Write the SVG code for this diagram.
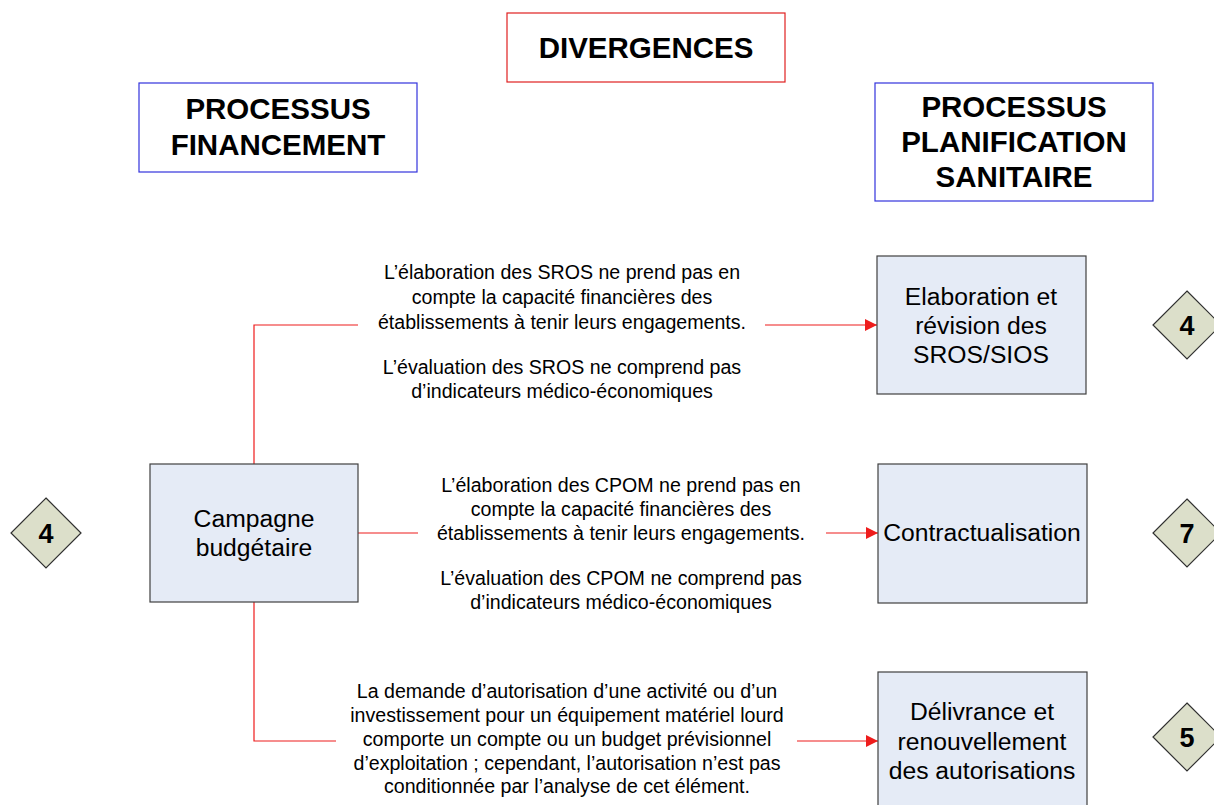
<svg xmlns="http://www.w3.org/2000/svg" width="1214" height="805" viewBox="0 0 1214 805">
  <style>
    .hdr { fill: #ffffff; stroke-width: 1.2; }
    .hdr-red { stroke: #e02020; }
    .hdr-blue { stroke: #3333dd; }
    .htxt { font-family: "Liberation Sans", Arial, sans-serif; font-weight: bold; font-size: 29.5px; fill: #000; text-anchor: middle; }
    .box { fill: #e5ebf6; stroke: #404040; stroke-width: 1.2; }
    .btxt { font-family: "Liberation Sans", Arial, sans-serif; font-size: 24.7px; fill: #000; text-anchor: middle; }
    .note { font-family: "Liberation Sans", Arial, sans-serif; font-size: 19.6px; fill: #000; text-anchor: middle; }
    .dia { fill: #dcdfca; stroke: #303030; stroke-width: 1.2; }
    .dtxt { font-family: "Liberation Sans", Arial, sans-serif; font-weight: bold; font-size: 27px; fill: #000; text-anchor: middle; }
    .link { fill: none; stroke: #ee1c1c; stroke-width: 1.2; }
  </style>
  <defs>
    <marker id="arrow" viewBox="0 0 10 10" refX="10" refY="5" markerWidth="12" markerHeight="12" markerUnits="userSpaceOnUse" orient="auto">
      <path d="M0,0 L10,5 L0,10 z" fill="#ee1c1c"/>
    </marker>
  </defs>

  <rect width="1214" height="805" fill="#ffffff"/>

  <!-- column headers -->
  <g id="divergences">
    <rect class="hdr hdr-red" x="507" y="13" width="278" height="69"/>
    <text class="htxt" x="646" y="58">DIVERGENCES</text>
  </g>
  <g id="processus-financement">
    <rect class="hdr hdr-blue" x="139" y="83" width="278" height="89"/>
    <text class="htxt" x="278" y="119">PROCESSUS</text>
    <text class="htxt" x="278" y="155">FINANCEMENT</text>
  </g>
  <g id="processus-planification">
    <rect class="hdr hdr-blue" x="875" y="83" width="278" height="118"/>
    <text class="htxt" x="1014" y="117">PROCESSUS</text>
    <text class="htxt" x="1014" y="152">PLANIFICATION</text>
    <text class="htxt" x="1014" y="187">SANITAIRE</text>
  </g>

  <!-- connectors -->
  <g id="connectors">
    <path class="link" d="M254,464 V325 H358"/>
    <path class="link" d="M765,325 H877" marker-end="url(#arrow)"/>
    <path class="link" d="M358,533 H418"/>
    <path class="link" d="M826,533 H878" marker-end="url(#arrow)"/>
    <path class="link" d="M254,602 V741 H336"/>
    <path class="link" d="M797,741 H878" marker-end="url(#arrow)"/>
  </g>

  <!-- divergence notes -->
  <g id="note-sros">
    <text class="note" x="562" y="279">L’élaboration des SROS ne prend pas en</text>
    <text class="note" x="562" y="304">compte la capacité financières des</text>
    <text class="note" x="562" y="329">établissements à tenir leurs engagements.</text>
    <text class="note" x="562" y="374">L’évaluation des SROS ne comprend pas</text>
    <text class="note" x="562" y="398">d’indicateurs médico-économiques</text>
  </g>
  <g id="note-cpom">
    <text class="note" x="621" y="492">L’élaboration des CPOM ne prend pas en</text>
    <text class="note" x="621" y="516">compte la capacité financières des</text>
    <text class="note" x="621" y="540">établissements à tenir leurs engagements.</text>
    <text class="note" x="621" y="585">L’évaluation des CPOM ne comprend pas</text>
    <text class="note" x="621" y="609">d’indicateurs médico-économiques</text>
  </g>
  <g id="note-autorisation">
    <text class="note" x="567" y="698">La demande d’autorisation d’une activité ou d’un</text>
    <text class="note" x="567" y="722">investissement pour un équipement matériel lourd</text>
    <text class="note" x="567" y="746">comporte un compte ou un budget prévisionnel</text>
    <text class="note" x="567" y="770">d’exploitation ; cependant, l’autorisation n’est pas</text>
    <text class="note" x="567" y="793">conditionnée par l’analyse de cet élément.</text>
  </g>

  <!-- process nodes -->
  <g id="campagne">
    <rect class="box" x="150" y="464" width="208" height="138"/>
    <text class="btxt" x="254" y="527">Campagne</text>
    <text class="btxt" x="254" y="556">budgétaire</text>
  </g>
  <g id="elaboration">
    <rect class="box" x="877" y="256" width="209" height="138"/>
    <text class="btxt" x="981" y="305">Elaboration et</text>
    <text class="btxt" x="981" y="334">révision des</text>
    <text class="btxt" x="981" y="363">SROS/SIOS</text>
  </g>
  <g id="contractualisation">
    <rect class="box" x="878" y="464" width="209" height="139"/>
    <text class="btxt" x="982" y="541">Contractualisation</text>
  </g>
  <g id="delivrance">
    <rect class="box" x="878" y="672" width="209" height="160"/>
    <text class="btxt" x="982" y="720">Délivrance et</text>
    <text class="btxt" x="982" y="750">renouvellement</text>
    <text class="btxt" x="982" y="779">des autorisations</text>
  </g>

  <!-- reference markers -->
  <g id="marker-campagne">
    <path class="dia" d="M46,498 L81,533 L46,568 L11,533 z"/>
    <text class="dtxt" x="46" y="543">4</text>
  </g>
  <g id="marker-elaboration">
    <path class="dia" d="M1187,291 L1221,325 L1187,359 L1153,325 z"/>
    <text class="dtxt" x="1187" y="335">4</text>
  </g>
  <g id="marker-contractualisation">
    <path class="dia" d="M1187,499 L1221,533 L1187,567 L1153,533 z"/>
    <text class="dtxt" x="1187" y="543">7</text>
  </g>
  <g id="marker-delivrance">
    <path class="dia" d="M1187,703 L1221,737 L1187,771 L1153,737 z"/>
    <text class="dtxt" x="1187" y="747">5</text>
  </g>
</svg>
